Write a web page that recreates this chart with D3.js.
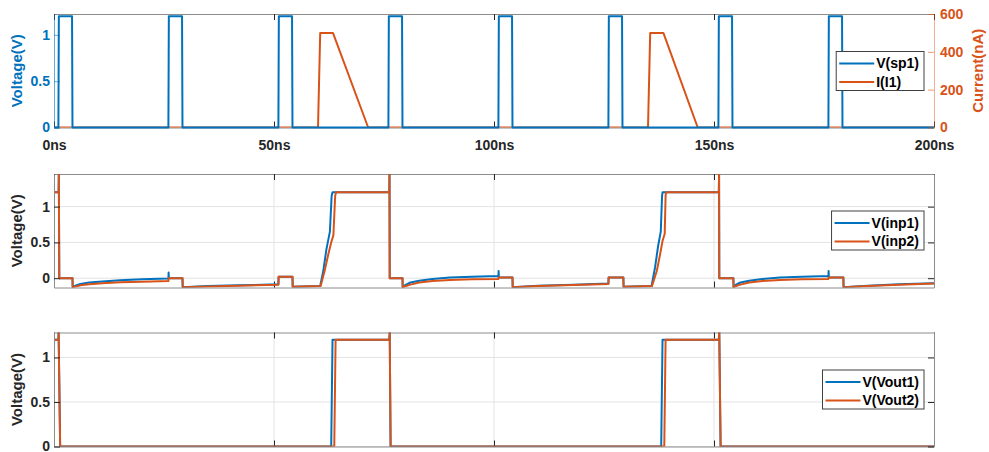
<!DOCTYPE html>
<html>
<head>
<meta charset="utf-8">
<script src="https://cdn.jsdelivr.net/npm/d3@7"></script>
<style>
  html, body { margin: 0; padding: 0; background: #fff; }
  svg { display: block; font-family: "Liberation Sans", Arial, sans-serif; }
</style>
</head>
<body>
<div id="chart"></div>
<script>
// ── Data (time in ns) ─────────────────────────────────────────────────────
const timeTicks = [0, 50, 100, 150, 200];
const voltTicks = [0, 0.5, 1];
const currTicks = [0, 200, 400, 600];

// top panel: V(sp1) [V] and I(I1) [nA]
const sp1 = [
  [0, 0], [1, 0], [1.1, 1.2], [4.1, 1.2], [4.2, 0],
  [26, 0], [26.1, 1.2], [29.1, 1.2], [29.2, 0],
  [51, 0], [51.1, 1.2], [54.1, 1.2], [54.2, 0],
  [76, 0], [76.1, 1.2], [79.1, 1.2], [79.2, 0],
  [101, 0], [101.1, 1.2], [104.1, 1.2], [104.2, 0],
  [126, 0], [126.1, 1.2], [129.1, 1.2], [129.2, 0],
  [151, 0], [151.1, 1.2], [154.1, 1.2], [154.2, 0],
  [176, 0], [176.1, 1.2], [179.1, 1.2], [179.2, 0],
  [200, 0]
];
const i1 = [
  [0, 0], [60, 0], [60.5, 500], [63.4, 500], [71.4, 0],
  [135, 0], [135.5, 500], [138.5, 500], [146.3, 0], [200, 0]
];

// middle panel: V(inp1), V(inp2)
const inp1 = [
  [0, 1.2], [1.05, 1.2], [1.1, 1.456], [1.2, 0], [4.2, 0], [4.25, -0.125],
  [5, -0.1], [6, -0.08], [8, -0.06], [11, -0.045], [15, -0.03], [20, -0.015], [26, -0.005],
  [26.05, 0.08], [26.1, 0], [29.2, 0], [29.25, -0.125],
  [35, -0.11], [42, -0.1], [51, -0.085], [51.05, 0.02], [54.2, 0.02], [54.25, -0.12],
  [60.5, -0.11], [61.2, 0.1], [61.9, 0.4], [62.7, 0.65], [63.1, 1.15], [63.3, 1.2],
  [76.2, 1.2], [76.25, 1.456], [76.3, 0], [79.2, 0], [79.25, -0.125],
  [80, -0.09], [81, -0.06], [83, -0.035], [86, -0.01], [90, 0.01], [95, 0.02], [101, 0.03],
  [101.05, 0.1], [101.1, 0.01], [104.2, 0.01], [104.25, -0.125],
  [110, -0.105], [118, -0.09], [126, -0.075], [126.05, 0.01], [129.4, 0.01], [129.45, -0.12],
  [135.8, -0.11], [136.6, 0.15], [137.3, 0.45], [137.9, 0.65], [138.2, 1.15], [138.3, 1.2],
  [151.1, 1.2], [151.15, 1.456], [151.2, 0], [154.4, 0], [154.45, -0.125],
  [155, -0.09], [156, -0.06], [158, -0.035], [161, -0.01], [165, 0.01], [170, 0.02], [176, 0.03],
  [176.05, 0.1], [176.1, 0.01], [179.4, 0.01], [179.45, -0.125],
  [185, -0.105], [192, -0.085], [200, -0.07]
];
const inp2 = [
  [0, 1.2], [1.05, 1.2], [1.1, 1.456], [1.2, 0], [4.2, 0], [4.25, -0.125],
  [5, -0.115], [6, -0.1], [8, -0.085], [11, -0.07], [15, -0.058], [20, -0.048], [26, -0.04],
  [26.05, 0], [29.2, 0], [29.25, -0.125],
  [35, -0.115], [42, -0.105], [51, -0.09], [51.05, 0.02], [54.2, 0.02], [54.25, -0.12],
  [60.6, -0.11], [61.5, 0.1], [62.4, 0.35], [63.0, 0.5], [63.5, 0.6], [63.9, 1.15], [64.1, 1.2],
  [76.2, 1.2], [76.25, 1.456], [76.3, 0], [79.2, 0], [79.25, -0.125],
  [80, -0.11], [81, -0.09], [83, -0.06], [86, -0.04], [90, -0.025], [95, -0.015], [101, -0.01],
  [101.05, 0.01], [104.2, 0.01], [104.25, -0.125],
  [110, -0.11], [118, -0.095], [126, -0.08], [126.05, 0.01], [129.4, 0.01], [129.45, -0.12],
  [135.9, -0.11], [137, 0.1], [137.8, 0.35], [138.3, 0.52], [138.8, 0.62], [139.0, 1.15], [139.1, 1.2],
  [151.1, 1.2], [151.15, 1.456], [151.2, 0], [154.4, 0], [154.45, -0.125],
  [155, -0.11], [156, -0.09], [158, -0.06], [161, -0.04], [165, -0.025], [170, -0.015], [176, -0.01],
  [176.05, 0.01], [179.4, 0.01], [179.45, -0.125],
  [185, -0.11], [192, -0.09], [200, -0.075]
];

// bottom panel: V(Vout1), V(Vout2)
const vout1 = [
  [0, 1.2], [1.0, 1.2], [1.05, 1.28], [1.4, 0], [63.0, 0], [63.3, 1.2],
  [76.2, 1.2], [76.3, 1.28], [76.5, 0], [138.0, 0], [138.3, 1.2],
  [151.1, 1.2], [151.2, 1.28], [151.5, 0], [200, 0]
];
const vout2 = [
  [0, 1.2], [1.0, 1.2], [1.05, 1.28], [1.4, 0], [63.7, 0], [64.0, 1.2],
  [76.2, 1.2], [76.3, 1.28], [76.5, 0], [138.7, 0], [139.0, 1.2],
  [151.1, 1.2], [151.2, 1.28], [151.5, 0], [200, 0]
];

// ── Layout ────────────────────────────────────────────────────────────────
const W = 989, H = 452;
const BLUE = '#0072BD', ORANGE = '#D95319', INK = '#262626', FRAME = '#8c8c8c', GRID = '#e3e3e3';
const left = 54, right = 934;
const TICK = 6;
const fmtV = d3.format('~g');

const svg = d3.select('#chart').append('svg').attr('width', W).attr('height', H);
const x = d3.scaleLinear().domain([0, 200]).range([left, right]);

let clipN = 0;
function clipFor(top, bottom) {
  const id = 'clip-' + (clipN++);
  svg.append('defs').append('clipPath').attr('id', id)
    .append('rect').attr('x', left).attr('y', top).attr('width', right - left).attr('height', bottom - top);
  return `url(#${id})`;
}

function drawLine(g, data, y, color, clip) {
  const line = d3.line().x(d => x(d[0])).y(d => y(d[1]));
  const p = g.append('path').datum(data)
    .attr('fill', 'none').attr('stroke', color).attr('stroke-width', 2)
    .attr('stroke-linejoin', 'round')
    .attr('d', line);
  if (clip) p.attr('clip-path', clip);
}

function styleText(ax, color, size = 14) {
  ax.selectAll('text').attr('fill', color).style('font-size', size + 'px').style('font-weight', 'bold');
}

function yLabel(text, cx, cy, color) {
  svg.append('text')
    .attr('transform', `translate(${cx},${cy}) rotate(-90)`)
    .attr('text-anchor', 'middle').attr('dy', '0.35em')
    .attr('fill', color).style('font-size', '15px').style('font-weight', 'bold')
    .text(text);
}

function legend(items, top) {
  const g = svg.append('g');
  const box = g.append('rect').attr('fill', '#fff').attr('stroke', '#404040').attr('stroke-width', 1);
  const rows = [12, 30.5];
  const texts = items.map((it, i) => g.append('text')
    .attr('y', top + rows[i]).attr('dy', '0.35em')
    .attr('fill', '#000').style('font-size', '14px').style('font-weight', 'bold')
    .text(it.label));
  const tw = d3.max(texts, t => t.node().getComputedTextLength());
  const bw = 3 + 35 + 2 + tw + 5;
  const bx = 924 - bw;
  box.attr('x', bx).attr('y', top).attr('width', bw).attr('height', 39);
  items.forEach((it, i) => {
    g.append('line')
      .attr('x1', bx + 3).attr('x2', bx + 38)
      .attr('y1', top + rows[i]).attr('y2', top + rows[i])
      .attr('stroke', it.color).attr('stroke-width', 2);
    texts[i].attr('x', bx + 40);
  });
}

// x ticks on top and bottom edges (inward)
function xTickMarks(top, bottom, withLabels) {
  svg.append('g')
    .attr('transform', `translate(0,${bottom})`)
    .call(d3.axisBottom(x).tickValues(timeTicks).tickSizeInner(-TICK).tickSizeOuter(0)
      .tickPadding(12.5).tickFormat(withLabels ? (d => d + 'ns') : ''))
    .call(ax => ax.select('.domain').attr('stroke', FRAME))
    .call(ax => ax.selectAll('line').attr('stroke', INK))
    .call(ax => styleText(ax, INK));
  svg.append('g')
    .attr('transform', `translate(0,${top})`)
    .call(d3.axisTop(x).tickValues(timeTicks).tickSizeInner(-TICK).tickSizeOuter(0).tickFormat(''))
    .call(ax => ax.select('.domain').attr('stroke', FRAME))
    .call(ax => ax.selectAll('line').attr('stroke', INK));
}

function grid(y, top, bottom, yTicks) {
  const g = svg.append('g');
  g.selectAll('.gx').data(timeTicks.slice(1, -1)).join('line')
    .attr('x1', d => x(d)).attr('x2', d => x(d)).attr('y1', top).attr('y2', bottom)
    .attr('stroke', GRID);
  g.selectAll('.gy').data(yTicks).join('line')
    .attr('x1', left).attr('x2', right).attr('y1', d => y(d)).attr('y2', d => y(d))
    .attr('stroke', GRID);
}

// ── Panel 1: V(sp1) / I(I1) ───────────────────────────────────────────────
{
  const top = 14, bottom = 127.5;
  const yV = d3.scaleLinear().domain([0, 1.225]).range([bottom, top]);
  const yI = d3.scaleLinear().domain([0, 600]).range([bottom, top]);
  const clip = clipFor(top, bottom);

  xTickMarks(top, bottom, true);

  drawLine(svg, i1, yI, ORANGE, clip);
  drawLine(svg, sp1, yV, BLUE, null);

  svg.append('g')
    .attr('transform', `translate(${left},0)`)
    .call(d3.axisLeft(yV).tickValues(voltTicks).tickSizeInner(-TICK).tickSizeOuter(0).tickPadding(4).tickFormat(fmtV))
    .call(ax => ax.select('.domain').attr('stroke', BLUE).attr('stroke-opacity', 0.6))
    .call(ax => ax.selectAll('line').attr('stroke', BLUE).attr('stroke-opacity', 0.6))
    .call(ax => styleText(ax, BLUE));

  svg.append('g')
    .attr('transform', `translate(${right},0)`)
    .call(d3.axisRight(yI).tickValues(currTicks).tickSizeInner(-TICK).tickSizeOuter(0).tickPadding(6))
    .call(ax => ax.select('.domain').attr('stroke', ORANGE).attr('stroke-opacity', 0.45))
    .call(ax => ax.selectAll('line').attr('stroke', ORANGE).attr('stroke-opacity', 0.6))
    .call(ax => styleText(ax, ORANGE));

  yLabel('Voltage(V)', 17, (top + bottom) / 2, BLUE);
  yLabel('Current(nA)', 978, (top + bottom) / 2, ORANGE);

  legend([{ label: 'V(sp1)', color: BLUE }, { label: 'I(I1)', color: ORANGE }], 51.5);
}

// ── Panels 2 & 3: voltage pairs ───────────────────────────────────────────
function voltPanel(top, bottom, domain, s1, s2, names, legendTop) {
  const y = d3.scaleLinear().domain(domain).range([bottom, top]);
  const clip = clipFor(top, bottom);

  grid(y, top, bottom, voltTicks);
  xTickMarks(top, bottom, false);

  drawLine(svg, s1, y, BLUE, clip);
  drawLine(svg, s2, y, ORANGE, clip);

  svg.append('g')
    .attr('transform', `translate(${left},0)`)
    .call(d3.axisLeft(y).tickValues(voltTicks).tickSizeInner(-TICK).tickSizeOuter(0).tickPadding(4).tickFormat(fmtV))
    .call(ax => ax.select('.domain').attr('stroke', FRAME))
    .call(ax => ax.selectAll('line').attr('stroke', INK))
    .call(ax => styleText(ax, INK));

  svg.append('g')
    .attr('transform', `translate(${right},0)`)
    .call(d3.axisRight(y).tickValues(voltTicks).tickSizeInner(-TICK).tickSizeOuter(0).tickFormat(''))
    .call(ax => ax.select('.domain').attr('stroke', FRAME))
    .call(ax => ax.selectAll('line').attr('stroke', INK));

  yLabel('Voltage(V)', 17, (top + bottom) / 2, INK);

  legend([{ label: names[0], color: BLUE }, { label: names[1], color: ORANGE }], legendTop);
}

voltPanel(174, 287.5, [-0.13, 1.456], inp1, inp2, ['V(inp1)', 'V(inp2)'], 211);
voltPanel(332.5, 446.5, [0, 1.28], vout1, vout2, ['V(Vout1)', 'V(Vout2)'], 370);
</script>
</body>
</html>
